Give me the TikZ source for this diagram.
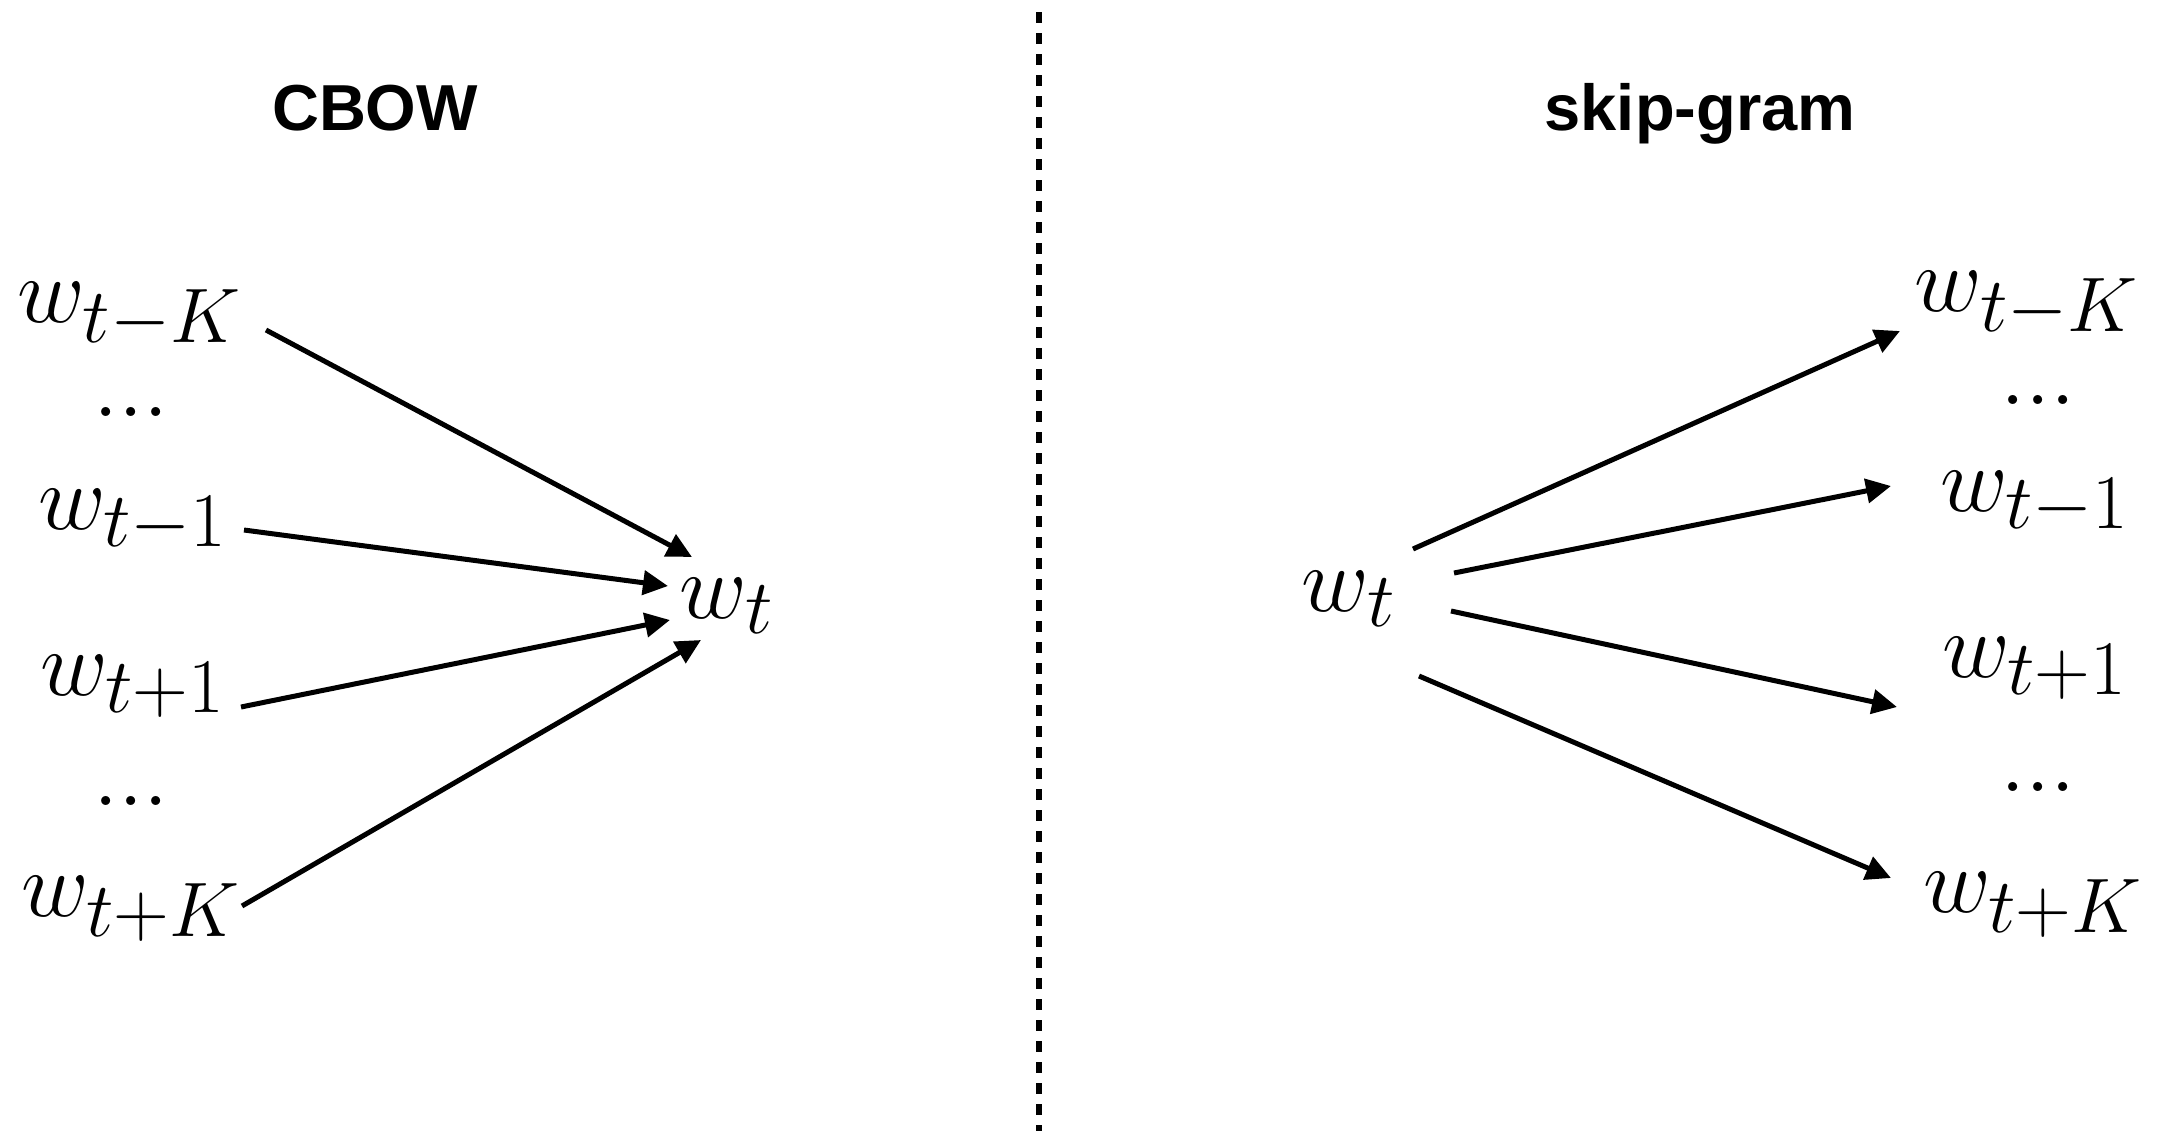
\documentclass[tikz,border=0pt]{standalone}
\usepackage{fix-cm}
\usepackage{amsmath}
\usepackage{fontspec}
\usepackage{tikz}
\usetikzlibrary{arrows.meta}
\newfontfamily\headfont{Liberation Sans}
\DeclareMathSizes{26.5}{26.5}{22}{16}
\newcommand{\wordsize}{\fontsize{26.5}{30}\selectfont}
\tikzset{
    word/.style={anchor=base, inner sep=0pt, font=\wordsize},
    head/.style={anchor=base, inner sep=0pt, font=\headfont\bfseries\fontsize{18.5}{22}\selectfont},
    arr/.style={line width=0.05cm, -{Triangle[length=0.25cm, width=0.24cm]}}
}
\begin{document}
\begin{tikzpicture}
    \useasboundingbox (0,0) rectangle (21.67,-11.31);

    % Titles
    \node[head] (cbow) at (3.75,-1.30) {CBOW};
    \node[head] (skip) at (17.00,-1.30) {skip-gram};

    % Divider
    \draw[line width=0.06cm, dash pattern=on 0.11cm off 0.10cm] (10.39,-0.12) -- (10.39,-11.31);

    % CBOW: context words into centre word
    \node[word] (lk)  at (1.30,-3.22) {$w_{t-K}$};
    \node[word] (ld1) at (1.31,-4.16) {$...$};
    \node[word] (l1)  at (1.33,-5.29) {$w_{t-1}$};
    \node[word] (l2)  at (1.33,-6.95) {$w_{t+1}$};
    \node[word] (ld2) at (1.31,-8.05) {$...$};
    \node[word] (lK)  at (1.31,-9.16) {$w_{t+K}$};
    \node[word] (wt)  at (7.27,-6.18) {$w_t$};

    \draw[arr] ([shift={(1.36,-0.08)}]lk.base) -- ([shift={(-0.35,0.61)}]wt.base);
    \draw[arr] ([shift={(1.11,-0.01)}]l1.base) -- ([shift={(-0.59,0.32)}]wt.base);
    \draw[arr] ([shift={(1.08,-0.12)}]l2.base) -- ([shift={(-0.57,-0.02)}]wt.base);
    \draw[arr] ([shift={(1.11,0.10)}]lK.base) -- ([shift={(-0.26,-0.22)}]wt.base);

    % skip-gram: centre word out to context words
    \node[word] (sg)  at (13.49,-6.11) {$w_t$};
    \node[word] (sk)  at (20.27,-3.11) {$w_{t-K}$};
    \node[word] (sd1) at (20.38,-4.04) {$...$};
    \node[word] (s1)  at (20.35,-5.11) {$w_{t-1}$};
    \node[word] (s2)  at (20.35,-6.77) {$w_{t+1}$};
    \node[word] (sd2) at (20.38,-7.91) {$...$};
    \node[word] (sK)  at (20.33,-9.12) {$w_{t+K}$};

    \draw[arr] ([shift={(0.64,0.62)}]sg.base) -- ([shift={(-1.27,-0.20)}]sk.base);
    \draw[arr] ([shift={(1.05,0.38)}]sg.base) -- ([shift={(-1.44,0.25)}]s1.base);
    \draw[arr] ([shift={(1.02,0.00)}]sg.base) -- ([shift={(-1.38,-0.30)}]s2.base);
    \draw[arr] ([shift={(0.70,-0.65)}]sg.base) -- ([shift={(-1.42,0.34)}]sK.base);
\end{tikzpicture}
\end{document}
